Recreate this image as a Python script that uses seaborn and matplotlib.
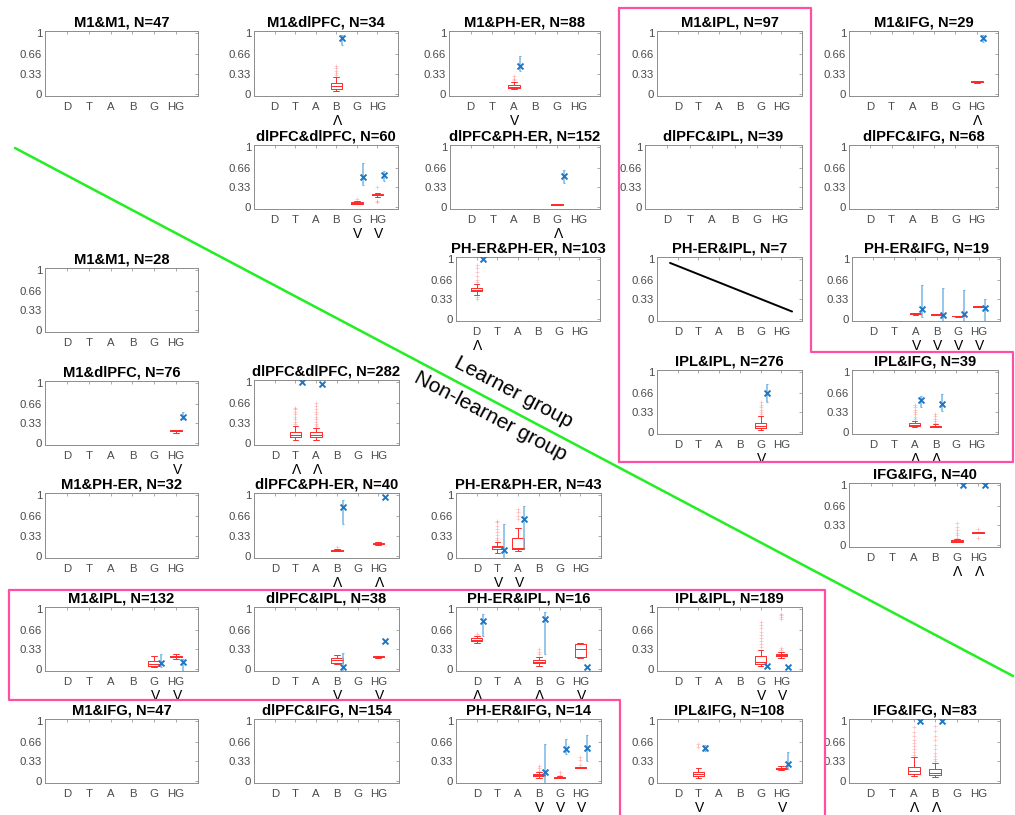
import numpy as np
import pandas as pd
import matplotlib
matplotlib.use("Agg")
import matplotlib.pyplot as plt
import seaborn as sns
from matplotlib.transforms import blended_transform_factory

# ---------------- data ----------------
CATS = ["D", "T", "A", "B", "G", "HG"]
YTICKS = [0, 0.33, 0.66, 1]
YTICKLABELS = ["0", "0.33", "0.66", "1"]

panel_keys = [
    "L_M1_M1", "L_M1_dl", "L_M1_PH", "L_M1_IPL", "L_M1_IFG",
    "L_dl_dl", "L_dl_PH", "L_dl_IPL", "L_dl_IFG",
    "L_PH_PH", "L_PH_IPL", "L_PH_IFG",
    "L_IPL_IPL", "L_IPL_IFG", "L_IFG_IFG",
    "N_M1_M1", "N_M1_dl", "N_dl_dl", "N_M1_PH", "N_dl_PH", "N_PH_PH",
    "N_M1_IPL", "N_dl_IPL", "N_PH_IPL", "N_IPL_IPL",
    "N_M1_IFG", "N_dl_IFG", "N_PH_IFG", "N_IPL_IFG", "N_IFG_IFG",
]
panel_titles = [
    "M1&M1, N=47", "M1&dlPFC, N=34", "M1&PH-ER, N=88", "M1&IPL, N=97", "M1&IFG, N=29",
    "dlPFC&dlPFC, N=60", "dlPFC&PH-ER, N=152", "dlPFC&IPL, N=39", "dlPFC&IFG, N=68",
    "PH-ER&PH-ER, N=103", "PH-ER&IPL, N=7", "PH-ER&IFG, N=19",
    "IPL&IPL, N=276", "IPL&IFG, N=39", "IFG&IFG, N=40",
    "M1&M1, N=28", "M1&dlPFC, N=76", "dlPFC&dlPFC, N=282", "M1&PH-ER, N=32",
    "dlPFC&PH-ER, N=40", "PH-ER&PH-ER, N=43",
    "M1&IPL, N=132", "dlPFC&IPL, N=38", "PH-ER&IPL, N=16", "IPL&IPL, N=189",
    "M1&IFG, N=47", "dlPFC&IFG, N=154", "PH-ER&IFG, N=14", "IPL&IFG, N=108", "IFG&IFG, N=83",
]

# red box plots: five-number summaries (whisker low, q1, median, q3, whisker high)
box_panel = ["L_M1_dl", "L_M1_PH", "L_M1_IFG", "L_dl_dl", "L_dl_dl", "L_dl_PH", "L_PH_PH",
             "L_PH_IFG", "L_PH_IFG", "L_PH_IFG", "L_PH_IFG", "L_IPL_IPL", "L_IPL_IFG", "L_IPL_IFG",
             "L_IFG_IFG", "L_IFG_IFG",
             "N_M1_dl", "N_dl_dl", "N_dl_dl", "N_dl_PH", "N_dl_PH", "N_PH_PH", "N_PH_PH",
             "N_M1_IPL", "N_M1_IPL", "N_dl_IPL", "N_dl_IPL", "N_PH_IPL", "N_PH_IPL", "N_PH_IPL",
             "N_IPL_IPL", "N_IPL_IPL", "N_PH_IFG", "N_PH_IFG", "N_PH_IFG", "N_IPL_IFG", "N_IPL_IFG",
             "N_IFG_IFG", "N_IFG_IFG"]
box_cat = ["B", "A", "HG", "G", "HG", "G", "D",
           "A", "B", "G", "HG", "G", "A", "B",
           "G", "HG",
           "HG", "T", "A", "B", "HG", "T", "A",
           "G", "HG", "B", "HG", "D", "B", "HG",
           "G", "HG", "B", "G", "HG", "T", "HG",
           "A", "B"]
box_lo = [0.05, 0.07, 0.18, 0.04, 0.17, 0.03, 0.40,
          0.06, 0.06, 0.035, 0.19, 0.02, 0.08, 0.07,
          0.04, 0.19,
          0.17, 0.04, 0.05, 0.07, 0.18, 0.05, 0.07,
          0.03, 0.17, 0.07, 0.18, 0.43, 0.05, 0.18,
          0.04, 0.18, 0.05, 0.04, 0.21, 0.05, 0.18,
          0.07, 0.06]
box_q1 = [0.08, 0.09, 0.19, 0.05, 0.19, 0.035, 0.46,
          0.07, 0.065, 0.04, 0.195, 0.06, 0.10, 0.08,
          0.05, 0.195,
          0.19, 0.09, 0.09, 0.08, 0.19, 0.11, 0.11,
          0.05, 0.19, 0.10, 0.19, 0.46, 0.09, 0.20,
          0.07, 0.21, 0.08, 0.045, 0.215, 0.08, 0.20,
          0.11, 0.09]
box_med = [0.12, 0.11, 0.20, 0.06, 0.20, 0.04, 0.49,
           0.08, 0.07, 0.045, 0.20, 0.10, 0.12, 0.09,
           0.06, 0.20,
           0.20, 0.13, 0.12, 0.09, 0.20, 0.14, 0.13,
           0.08, 0.20, 0.14, 0.20, 0.48, 0.12, 0.33,
           0.11, 0.23, 0.10, 0.05, 0.22, 0.12, 0.21,
           0.16, 0.13]
box_q3 = [0.17, 0.14, 0.21, 0.07, 0.21, 0.045, 0.52,
          0.09, 0.08, 0.05, 0.205, 0.14, 0.14, 0.10,
          0.07, 0.21,
          0.21, 0.17, 0.17, 0.10, 0.21, 0.16, 0.30,
          0.13, 0.22, 0.18, 0.21, 0.51, 0.14, 0.42,
          0.21, 0.25, 0.12, 0.06, 0.225, 0.15, 0.22,
          0.23, 0.19]
box_hi = [0.28, 0.20, 0.21, 0.10, 0.23, 0.05, 0.59,
          0.10, 0.085, 0.05, 0.21, 0.27, 0.18, 0.13,
          0.09, 0.22,
          0.22, 0.28, 0.24, 0.11, 0.22, 0.23, 0.46,
          0.22, 0.24, 0.23, 0.22, 0.55, 0.19, 0.43,
          0.32, 0.28, 0.14, 0.07, 0.23, 0.22, 0.24,
          0.40, 0.30]

# red outliers
out_panel = ["L_M1_dl", "L_M1_PH", "L_dl_dl", "L_dl_dl", "L_PH_PH", "L_IPL_IPL", "L_IPL_IFG",
             "L_IPL_IFG", "L_IFG_IFG", "L_IFG_IFG",
             "N_dl_dl", "N_dl_dl", "N_dl_PH", "N_PH_PH", "N_PH_PH", "N_PH_IPL", "N_PH_IPL",
             "N_IPL_IPL", "N_IPL_IPL", "N_PH_IFG", "N_PH_IFG", "N_PH_IFG", "N_IPL_IFG",
             "N_IFG_IFG", "N_IFG_IFG"]
out_cat = ["B", "A", "G", "HG", "D", "G", "A",
           "B", "G", "HG",
           "T", "A", "B", "T", "A", "D", "B",
           "G", "HG", "B", "G", "HG", "T",
           "A", "B"]
out_vals = [
    [0.31, 0.34, 0.38, 0.42, 0.46],
    [0.22, 0.25, 0.30],
    [0.13],
    [0.07, 0.10, 0.33],
    [0.33, 0.36, 0.62, 0.66, 0.72, 0.78, 0.85, 0.90],
    [0.30, 0.33, 0.37, 0.41, 0.45, 0.50],
    [0.21, 0.25, 0.29, 0.33, 0.37, 0.42, 0.45],
    [0.15, 0.18, 0.22, 0.27, 0.30],
    [0.12, 0.16, 0.20, 0.25, 0.30, 0.37],
    [0.12, 0.27],
    [0.31, 0.35, 0.39, 0.43, 0.47, 0.51, 0.55, 0.58],
    [0.27, 0.31, 0.35, 0.39, 0.43, 0.47, 0.51, 0.55, 0.60, 0.66],
    [0.14],
    [0.26, 0.30, 0.35, 0.40, 0.45, 0.50, 0.55, 0.58],
    [0.60, 0.66, 0.72, 0.78],
    [0.58],
    [0.24, 0.28, 0.33],
    [0.37, 0.42, 0.47, 0.52, 0.57, 0.62, 0.68, 0.74, 0.79],
    [0.31, 0.35, 0.84, 0.87, 0.90, 0.93],
    [0.17, 0.21, 0.25],
    [0.10, 0.15],
    [0.27, 0.34, 0.40],
    [0.57, 0.61],
    [0.44, 0.48, 0.53, 0.58, 0.63, 0.69, 0.75, 0.82, 0.90],
    [0.33, 0.37, 0.42, 0.47, 0.53, 0.60, 0.68, 0.75, 0.83, 0.92],
]

# blue estimates with error bars
blue_panel = box_panel
blue_cat = box_cat
blue_val = [0.93, 0.46, 0.92, 0.50, 0.53, 0.52, 1.00,
            0.16, 0.06, 0.07, 0.18, 0.66, 0.53, 0.46,
            1.00, 1.00,
            0.44, 1.00, 0.98, 0.80, 0.97, 0.10, 0.60,
            0.09, 0.12, 0.03, 0.47, 0.80, 0.83, 0.02,
            0.04, 0.02, 0.15, 0.53, 0.55, 0.55, 0.28,
            1.00, 1.00]
blue_lo = [0.80, 0.37, 0.85, 0.36, 0.43, 0.40, 1.00,
           0.03, -0.05, -0.05, -0.05, 0.50, 0.41, 0.34,
           1.00, 1.00,
           0.40, 1.00, 0.98, 0.53, 0.96, -0.05, 0.13,
           0.02, -0.05, -0.05, 0.45, 0.55, 0.24, 0.02,
           0.04, 0.02, -0.05, 0.45, 0.33, 0.50, 0.20,
           1.00, 1.00]
blue_hi = [0.98, 0.62, 0.97, 0.73, 0.60, 0.62, 1.00,
           0.57, 0.52, 0.49, 0.33, 0.81, 0.60, 0.63,
           1.00, 1.00,
           0.52, 1.00, 0.98, 0.93, 0.98, 0.53, 0.83,
           0.25, 0.16, 0.27, 0.49, 0.93, 0.95, 0.02,
           0.04, 0.02, 0.62, 0.70, 0.77, 0.60, 0.48,
           1.00, 1.00]

# significance signs under categories
sign_panel = box_panel
sign_cat = box_cat
sign_sym = ["Λ", "V", "Λ", "V", "V", "Λ", "Λ",
            "V", "V", "V", "V", "V", "Λ", "Λ",
            "Λ", "Λ",
            "V", "Λ", "Λ", "Λ", "Λ", "V", "V",
            "V", "V", "V", "V", "Λ", "Λ", "V",
            "V", "V", "V", "V", "V", "V", "V",
            "Λ", "Λ"]

# black trend line in PH-ER&IPL (learner)
line_x = [0.63, 6.52]
line_y = [0.94, 0.12]

# ---------------- layout (pixels: left, top, right, bottom) ----------------
W, H = 1015, 815
panel_rects = {
    "L_M1_M1": (45, 31, 198, 96), "L_M1_dl": (254, 31, 398, 96), "L_M1_PH": (449, 31, 600, 96),
    "L_M1_IPL": (657, 31, 802, 96), "L_M1_IFG": (849, 31, 998, 96),
    "L_dl_dl": (254, 145, 398, 209), "L_dl_PH": (450, 145, 600, 209),
    "L_dl_IPL": (645, 145, 802, 209), "L_dl_IFG": (849, 145, 998, 209),
    "L_PH_PH": (456, 257, 600, 321), "L_PH_IPL": (657, 257, 802, 321), "L_PH_IFG": (852, 257, 1000, 321),
    "L_IPL_IPL": (657, 370, 802, 434), "L_IPL_IFG": (852, 370, 998, 434),
    "L_IFG_IFG": (849, 483, 1000, 547),
    "N_M1_M1": (45, 268, 198, 332),
    "N_M1_dl": (45, 381, 198, 445), "N_dl_dl": (254, 380, 399, 445),
    "N_M1_PH": (45, 493, 198, 558), "N_dl_PH": (254, 493, 399, 558), "N_PH_PH": (456, 493, 601, 558),
    "N_M1_IPL": (45, 607, 198, 671), "N_dl_IPL": (254, 607, 399, 671),
    "N_PH_IPL": (456, 607, 601, 671), "N_IPL_IPL": (657, 607, 802, 671),
    "N_M1_IFG": (45, 719, 198, 783), "N_dl_IFG": (254, 719, 399, 783),
    "N_PH_IFG": (456, 719, 601, 783), "N_IPL_IFG": (657, 719, 802, 783),
    "N_IFG_IFG": (849, 719, 1000, 783),
}

RED = "#ff2a2a"
RED_LIGHT = "#ff8080"
BLUE = "#1f77c4"
BLUE_LIGHT = "#7ab6e4"
PINK = "#ff4fa3"
GREEN = "#22ee22"

sns.set_style("white")
plt.rcParams["font.family"] = ["Liberation Sans", "DejaVu Sans"]

fig = plt.figure(figsize=(W / 100, H / 100), dpi=100)
axes = {}
for key, title in zip(panel_keys, panel_titles):
    l, t, r, b = panel_rects[key]
    ax = fig.add_axes([l / W, 1 - b / H, (r - l) / W, (b - t) / H])
    axes[key] = ax
    ax.set_title(title, fontsize=10.6, fontweight="bold", pad=3, color="black")

def xpos(cat):
    return CATS.index(cat) + 1

# boxes
for p, c, lo, q1, md, q3, hi in zip(box_panel, box_cat, box_lo, box_q1, box_med, box_q3, box_hi):
    df = pd.DataFrame({"x": [xpos(c)] * 5, "y": [lo, q1, md, q3, hi]})
    sns.boxplot(data=df, x="x", y="y", native_scale=True, orient="x", fill=False,
                color=RED, linecolor=RED, width=0.55, whis=(0, 100), showfliers=False,
                linewidth=0.7, ax=axes[p])

# outliers
for p, c, vals in zip(out_panel, out_cat, out_vals):
    df = pd.DataFrame({"x": [xpos(c)] * len(vals), "y": vals})
    sns.scatterplot(data=df, x="x", y="y", marker="+", color=RED_LIGHT, s=6,
                    linewidth=0.5, alpha=0.55, legend=False, ax=axes[p])

# blue estimates
for p, c, v, lo, hi in zip(blue_panel, blue_cat, blue_val, blue_lo, blue_hi):
    ax = axes[p]
    x = xpos(c) + 0.3
    if hi > lo:
        ax.errorbar([x], [v], yerr=[[v - lo], [hi - v]], fmt="none", ecolor=BLUE_LIGHT,
                    elinewidth=1.1, capsize=1.0, capthick=0.8)
    df = pd.DataFrame({"x": [x], "y": [v]})
    sns.scatterplot(data=df, x="x", y="y", marker="x", color=BLUE, s=18,
                    linewidth=1.4, legend=False, ax=ax, zorder=5)

# black line
sns.lineplot(x=line_x, y=line_y, color="black", linewidth=1.4, ax=axes["L_PH_IPL"])

# signs
for p, c, s in zip(sign_panel, sign_cat, sign_sym):
    ax = axes[p]
    tr = blended_transform_factory(ax.transData, ax.transAxes)
    ax.text(xpos(c) + 0.05, -0.39, s, transform=tr, ha="center", va="center",
            fontsize=10, color="black", clip_on=False)

# axis styling
for key, ax in axes.items():
    ax.set_xlim(0, 7)
    ax.set_ylim(-0.04, 1.04)
    ax.set_xticks(range(1, 7))
    ax.set_xticklabels(CATS)
    ax.set_yticks(YTICKS)
    ax.set_yticklabels(YTICKLABELS)
    ax.set_xlabel("")
    ax.set_ylabel("")
    ax.tick_params(axis="both", direction="in", length=2.5, width=0.5, top=True, right=True,
                   labelsize=8.2, labelcolor="#4a4a4a", color="#888888")
    ax.tick_params(axis="x", pad=4.5)
    ax.tick_params(axis="y", pad=2)
    for sp in ax.spines.values():
        sp.set_visible(True)
        sp.set_color("#8c8c8c")
        sp.set_linewidth(0.7)
    ax.grid(False)

# overlay: diagonal separator, group labels, highlight frames
ov = fig.add_axes([0, 0, 1, 1], zorder=10)
ov.set_xlim(0, W)
ov.set_ylim(H, 0)
ov.axis("off")
ov.patch.set_alpha(0)
ov.plot([15, 1013], [148, 676], color=GREEN, linewidth=1.8)
ov.plot([619, 811, 811, 1013, 1013, 619, 619], [8, 8, 352, 352, 462, 462, 8],
        color=PINK, linewidth=1.6)
ov.plot([9, 825, 825], [590, 590, 815], color=PINK, linewidth=1.6)
ov.plot([9, 9, 620, 620], [590, 700, 700, 815], color=PINK, linewidth=1.6)
ang = -np.degrees(np.arctan2(676 - 148, 1013 - 15))
ov.text(513, 392, "Learner group", rotation=ang, rotation_mode="anchor",
        ha="center", va="center", fontsize=15, color="black")
ov.text(490, 416, "Non-learner group", rotation=ang, rotation_mode="anchor",
        ha="center", va="center", fontsize=15, color="black")

fig.savefig("out.png", dpi=100)
